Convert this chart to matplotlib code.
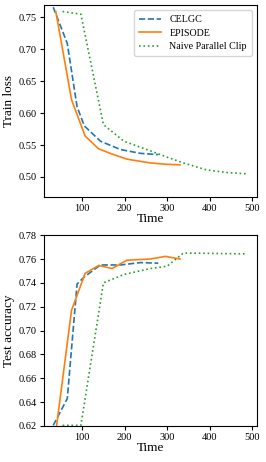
import numpy as np
import matplotlib
matplotlib.use("Agg")
import matplotlib.pyplot as plt

plt.rcParams["font.family"] = "serif"
plt.rcParams["font.serif"] = ["Liberation Serif", "DejaVu Serif"]

# CELGC
celgc_time = [32, 65, 88, 105, 143, 190, 237, 279]
celgc_loss = [0.7656, 0.709, 0.610, 0.580, 0.556, 0.543, 0.537, 0.535]
celgc_acc = [0.6205, 0.643, 0.739, 0.745, 0.755, 0.755, 0.757, 0.7565]

# EPISODE
episode_time = [38, 75, 107, 139, 170, 205, 260, 296, 330]
episode_loss = [0.759, 0.621, 0.564, 0.544, 0.536, 0.528, 0.522, 0.520, 0.519]
episode_acc = [0.615, 0.717, 0.748, 0.7546, 0.752, 0.759, 0.760, 0.7622, 0.760]

# Naive Parallel Clip
naive_time = [54, 97, 150, 198, 260, 300, 338, 393, 440, 487]
naive_loss = [0.759, 0.7547, 0.582, 0.556, 0.541, 0.531, 0.522, 0.511, 0.507, 0.505]
naive_acc = [0.6205, 0.6205, 0.740, 0.747, 0.752, 0.754, 0.765, 0.7648, 0.7645, 0.7643]

fig = plt.figure(figsize=(2.66, 4.62), dpi=100)
ax1 = fig.add_axes([0.165, 0.574, 0.801, 0.415])
ax2 = fig.add_axes([0.165, 0.078, 0.801, 0.413])

ax1.plot(celgc_time, celgc_loss, "--", color="C0", lw=1.2, label="CELGC")
ax1.plot(episode_time, episode_loss, "-", color="C1", lw=1.2, label="EPISODE")
ax1.plot(naive_time, naive_loss, ":", color="C2", lw=1.2, label="Naive Parallel Clip")
ax1.set_xlim(10, 511)
ax1.set_ylim(0.469, 0.769)
ax1.set_yticks([0.50, 0.55, 0.60, 0.65, 0.70, 0.75])
ax1.set_xticks([100, 200, 300, 400, 500])
ax1.set_xlabel("Time", fontsize=9.5, labelpad=0)
ax1.set_ylabel("Train loss", fontsize=9.5, labelpad=3)
ax1.tick_params(labelsize=7.5, length=3, pad=2)
ax1.legend(loc="upper right", fontsize=7.2, handlelength=2.2, borderpad=0.5, labelspacing=0.45)

ax2.plot(celgc_time, celgc_acc, "--", color="C0", lw=1.2)
ax2.plot(episode_time, episode_acc, "-", color="C1", lw=1.2)
ax2.plot(naive_time, naive_acc, ":", color="C2", lw=1.2)
ax2.set_xlim(10, 511)
ax2.set_ylim(0.62, 0.78)
ax2.set_yticks(np.arange(0.62, 0.781, 0.02))
ax2.set_xticks([100, 200, 300, 400, 500])
ax2.set_xlabel("Time", fontsize=9.5, labelpad=0)
ax2.set_ylabel("Test accuracy", fontsize=9.5, labelpad=3)
ax2.tick_params(labelsize=7.5, length=3, pad=2)

fig.savefig("out.png", dpi=100)
